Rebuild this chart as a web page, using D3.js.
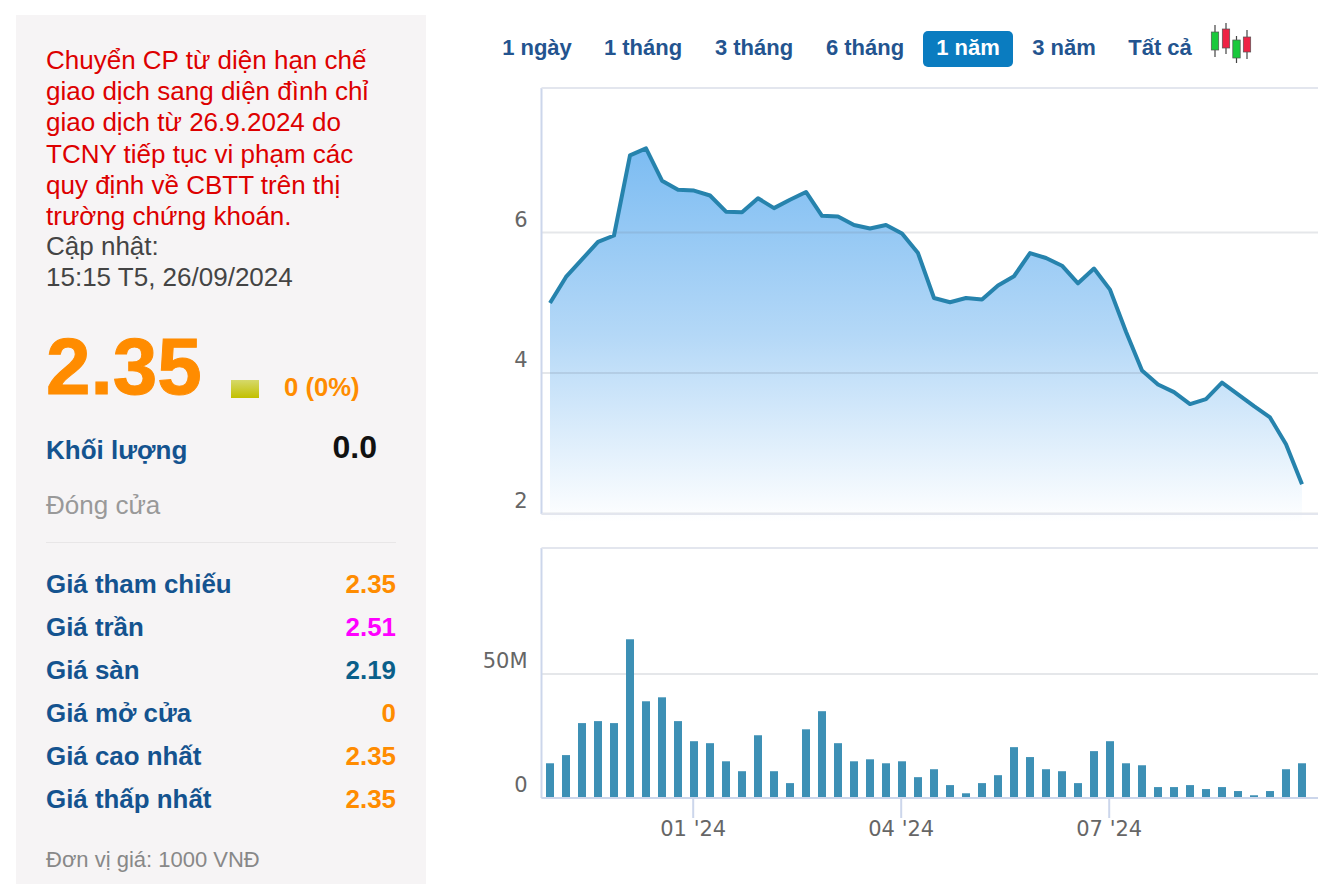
<!DOCTYPE html>
<html><head><meta charset="utf-8">
<style>html,body{margin:0;padding:0;background:#fff;overflow:hidden}svg{display:block}text{font-family:"Liberation Sans",Arial,sans-serif}</style>
<script src="https://cdnjs.cloudflare.com/ajax/libs/d3/7.8.5/d3.min.js"></script>
</head><body><div id="c"></div>
<script>
const weeks=["2023-10-30","2023-11-06","2023-11-13","2023-11-20","2023-11-27","2023-12-04","2023-12-11","2023-12-18","2023-12-25","2024-01-01","2024-01-08","2024-01-15","2024-01-22","2024-01-29","2024-02-05","2024-02-12","2024-02-19","2024-02-26","2024-03-04","2024-03-11","2024-03-18","2024-03-25","2024-04-01","2024-04-08","2024-04-15","2024-04-22","2024-04-29","2024-05-06","2024-05-13","2024-05-20","2024-05-27","2024-06-03","2024-06-10","2024-06-17","2024-06-24","2024-07-01","2024-07-08","2024-07-15","2024-07-22","2024-07-29","2024-08-05","2024-08-12","2024-08-19","2024-08-26","2024-09-02","2024-09-09","2024-09-16","2024-09-23"];
const prices=[4.99,5.36,5.61,5.86,5.95,7.09,7.19,6.73,6.60,6.59,6.52,6.29,6.28,6.48,6.34,6.46,6.57,6.23,6.22,6.10,6.05,6.10,5.98,5.70,5.06,5.00,5.06,5.04,5.24,5.37,5.70,5.63,5.52,5.27,5.48,5.18,4.58,4.03,3.83,3.72,3.55,3.62,3.855,3.69,3.52,3.36,2.98,2.41];
const volumes=[13.8,17.1,30,30.8,30,63.8,38.8,40.4,30.8,22.7,21.9,14.6,10.6,25.1,10.6,5.8,27.5,34.8,21.9,14.6,15.4,13.8,14.6,8.2,11.4,5,1.7,5.8,9,20.3,16.3,11.4,10.6,5.8,18.7,22.7,13.8,13,4.2,4.2,5,3.4,4.2,2.6,0.9,2.6,11.4,13.8];
const priceTicks=[2,4,6];
const volumeTicks=[0,50];
const dateTicks=[["2024-01-01","01 '24"],["2024-04-01","04 '24"],["2024-07-01","07 '24"]];
const ranges=["1 ngày","1 tháng","3 tháng","6 tháng","1 năm","3 năm","Tất cả"];
const rangeX=[537,643,754,865,968,1064,1160];
const notice=["Chuyển CP từ diện hạn chế","giao dịch sang diện đình chỉ","giao dịch từ 26.9.2024 do","TCNY tiếp tục vi phạm các","quy định về CBTT trên thị","trường chứng khoán."];
const updated=["Cập nhật:","15:15 T5, 26/09/2024"];
const rowLabels=["Giá tham chiếu","Giá trần","Giá sàn","Giá mở cửa","Giá cao nhất","Giá thấp nhất"];
const rowValues=["2.35","2.51","2.19","0","2.35","2.35"];
const rowColors=["#ff8c00","#ff00ff","#0a5f8a","#ff8c00","#ff8c00","#ff8c00"];

const svg=d3.select("#c").append("svg").attr("width",1334).attr("height",884);
const blue="#14538f",axisC="#ccd6eb",gridC="rgba(110,120,140,.18)";
const defs=svg.append("defs");
const g=defs.append("linearGradient").attr("id","ga").attr("x1",0).attr("x2",0).attr("y1",0).attr("y2",1);
g.append("stop").attr("offset",0).attr("stop-color","#7cbcf2");
g.append("stop").attr("offset",.5).attr("stop-color","#b4d8f7");
g.append("stop").attr("offset",1).attr("stop-color","#ffffff");
const g2=defs.append("linearGradient").attr("id","gb").attr("x1",0).attr("x2",0).attr("y1",0).attr("y2",1);
g2.append("stop").attr("offset",0).attr("stop-color","#d6d96a");
g2.append("stop").attr("offset",1).attr("stop-color","#c2c000");

/* left panel */
svg.append("rect").attr("x",16).attr("y",15).attr("width",410).attr("height",869).attr("fill","#f6f4f5");
const P=svg.append("g");
P.selectAll(".n").data(notice).join("text").attr("x",46).attr("y",(d,i)=>69+i*31.2).attr("font-size",26).attr("fill","#dd0000").text(d=>d);
P.selectAll(".u").data(updated).join("text").attr("x",46).attr("y",(d,i)=>255+i*31).attr("font-size",26).attr("fill","#444").text(d=>d);
P.append("text").attr("x",46).attr("y",394).attr("font-size",80).attr("font-weight",700).attr("fill","#ff8c00").attr("stroke","#ff8c00").attr("stroke-width",1).text("2.35");
P.append("rect").attr("x",231).attr("y",380).attr("width",28).attr("height",18).attr("fill","url(#gb)");
P.append("text").attr("x",284).attr("y",396).attr("font-size",25.7).attr("font-weight",700).attr("fill","#ff8c00").text("0 (0%)");
P.append("text").attr("x",46).attr("y",459).attr("font-size",26).attr("font-weight",700).attr("fill",blue).text("Khối lượng");
P.append("text").attr("x",377).attr("y",458).attr("text-anchor","end").attr("font-size",32).attr("font-weight",700).attr("fill","#111").text("0.0");
P.append("text").attr("x",46).attr("y",514).attr("font-size",26).attr("fill","#999").text("Đóng cửa");
P.append("line").attr("x1",46).attr("x2",396).attr("y1",542.5).attr("y2",542.5).attr("stroke","#e8e6e7");
P.selectAll(".l").data(rowLabels).join("text").attr("x",46).attr("y",(d,i)=>593+i*43).attr("font-size",25.9).attr("font-weight",700).attr("fill",blue).text(d=>d);
P.selectAll(".v").data(rowValues).join("text").attr("x",396).attr("y",(d,i)=>593+i*43).attr("text-anchor","end").attr("font-size",25.9).attr("font-weight",700).attr("fill",(d,i)=>rowColors[i]).text(d=>d);
P.append("text").attr("x",46).attr("y",867).attr("font-size",22).attr("fill","#888").text("Đơn vị giá: 1000 VNĐ");

/* range buttons */
svg.append("rect").attr("x",923).attr("y",31).attr("width",90).attr("height",36).attr("rx",5).attr("fill","#0a7cc0");
svg.selectAll(".b").data(ranges).join("text").attr("x",(d,i)=>rangeX[i]).attr("y",55).attr("text-anchor","middle").attr("font-size",22).attr("font-weight",700).attr("fill",d=>d==="1 năm"?"#fff":"#23548f").text(d=>d);
/* candle icon */
[[1215,25,57,32,18,"#19c93c"],[1226,23,54,29,19,"#ee2244"],[1236.5,36,63,40,18,"#19c93c"],[1247,30,59,37,15,"#ee2244"]].forEach(([cx,y1,y2,t,h,c])=>{
  svg.append("line").attr("x1",cx).attr("x2",cx).attr("y1",y1).attr("y2",y2).attr("stroke","#444").attr("stroke-width",1.2);
  svg.append("rect").attr("x",cx-3.7).attr("y",t).attr("width",7.4).attr("height",h).attr("fill",c).attr("stroke","#555").attr("stroke-width",.7);
});

/* scales */
const L=541.5,R=1318;
const x=d3.scalePoint().domain(weeks).range([550,1302]);
const yP=d3.scaleLinear().domain([2,6]).range([513,232]);
const yV=d3.scaleLinear().domain([0,50]).range([797.5,673.5]);
const labelFont='"DejaVu Sans",sans-serif';
const styleLabels=s=>{s.select(".domain").remove();s.selectAll("line").attr("stroke",gridC).attr("stroke-width",2);s.selectAll("text").attr("dy",-6).style("font-family",labelFont).style("font-size","21px").attr("fill","#666");};

/* price panel */
const area=d3.area().x((d,i)=>x(weeks[i])).y0(yP(1.87)).y1(d=>yP(d));
const line=d3.line().x((d,i)=>x(weeks[i])).y(d=>yP(d));
svg.append("path").attr("d",area(prices)).attr("fill","url(#ga)");
svg.append("g").attr("transform",`translate(${L},0)`).call(d3.axisLeft(yP).tickValues(priceTicks).tickSize(-(R-L)).tickPadding(14).tickFormat(d3.format("d"))).call(styleLabels);
svg.append("path").attr("d",line(prices)).attr("fill","none").attr("stroke","#2683ad").attr("stroke-width",4).attr("stroke-linejoin","round");
svg.append("line").attr("x1",L).attr("x2",L).attr("y1",88).attr("y2",514).attr("stroke",axisC).attr("stroke-width",2);
svg.append("line").attr("x1",L).attr("x2",R).attr("y1",88).attr("y2",88).attr("stroke","#e3e6ee").attr("stroke-width",2);
svg.append("line").attr("x1",L).attr("x2",R).attr("y1",514).attr("y2",514).attr("stroke","#e3e6ee").attr("stroke-width",2);

/* volume panel */
svg.append("g").attr("transform",`translate(${L},0)`).call(d3.axisLeft(yV).tickValues(volumeTicks).tickSize(-(R-L)).tickPadding(14).tickFormat(d=>d?d+"M":"0")).call(styleLabels);
svg.selectAll(".bar").data(volumes).join("rect").attr("x",(d,i)=>x(weeks[i])-4).attr("width",8).attr("y",d=>yV(d)).attr("height",d=>yV(0)-yV(d)).attr("fill","#3d90b5");
svg.append("line").attr("x1",L).attr("x2",L).attr("y1",548).attr("y2",798).attr("stroke",axisC).attr("stroke-width",2);
svg.append("line").attr("x1",L).attr("x2",R).attr("y1",548).attr("y2",548).attr("stroke","#e3e6ee").attr("stroke-width",2);
const labelByDate=new Map(dateTicks);
svg.append("g").attr("transform","translate(-1.3,798)").call(d3.axisBottom(x).tickValues(dateTicks.map(d=>d[0])).tickSize(20).tickPadding(3).tickFormat(d=>labelByDate.get(d)))
 .call(s=>{s.select(".domain").attr("d",`M${L+1.3},0H${R+1.3}`).attr("stroke",axisC).attr("stroke-width",2);s.selectAll("line").attr("stroke",axisC).attr("stroke-width",2);s.selectAll("text").style("font-family",labelFont).style("font-size","21px").attr("fill","#666");});
</script></body></html>
